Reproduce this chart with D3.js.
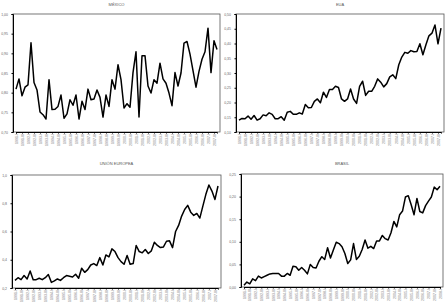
<!DOCTYPE html>
<html>
<head>
<meta charset="utf-8">
<script src="https://cdn.jsdelivr.net/npm/d3@7"></script>
<style>
  body { margin: 0; background: #fff; }
  svg { display: block; font-family: "Liberation Sans", Arial, sans-serif; }
</style>
</head>
<body>
<div id="chart"></div>
<script>
// quarter labels
const years = d3.range(1991, 2009);
const quarters = ["I", "II", "III", "IV"];
const quarterLabels = years.flatMap(y => quarters.map(q => `${y}-${q}`));

const titles = ["MÉXICO", "EUA", "UNIÓN EUROPEA", "BRASIL"];

const mexicoValues = [0.809, 0.835, 0.792, 0.814, 0.820, 0.927, 0.826, 0.807, 0.751, 0.744,
  0.733, 0.833, 0.757, 0.758, 0.765, 0.794, 0.735, 0.746, 0.782, 0.768,
  0.794, 0.733, 0.778, 0.757, 0.809, 0.782, 0.784, 0.807, 0.788, 0.738,
  0.794, 0.765, 0.833, 0.809, 0.871, 0.833, 0.761, 0.772, 0.763, 0.851,
  0.904, 0.738, 0.894, 0.894, 0.817, 0.799, 0.833, 0.824, 0.875, 0.835,
  0.824, 0.799, 0.767, 0.851, 0.817, 0.850, 0.926, 0.930, 0.898, 0.856,
  0.814, 0.854, 0.885, 0.904, 0.964, 0.851, 0.932, 0.910];

const usaValues = [0.140, 0.146, 0.145, 0.154, 0.143, 0.156, 0.140, 0.145, 0.158, 0.155,
  0.165, 0.160, 0.145, 0.145, 0.152, 0.140, 0.167, 0.170, 0.160, 0.160,
  0.165, 0.161, 0.193, 0.182, 0.183, 0.204, 0.212, 0.199, 0.235, 0.217,
  0.244, 0.244, 0.255, 0.251, 0.212, 0.204, 0.212, 0.246, 0.212, 0.197,
  0.255, 0.272, 0.224, 0.238, 0.238, 0.255, 0.280, 0.269, 0.253, 0.264,
  0.287, 0.294, 0.281, 0.328, 0.354, 0.370, 0.367, 0.376, 0.372, 0.373,
  0.399, 0.362, 0.396, 0.426, 0.435, 0.463, 0.399, 0.452];

const euValues = [0.254, 0.273, 0.259, 0.288, 0.264, 0.321, 0.259, 0.259, 0.269, 0.259,
  0.273, 0.295, 0.240, 0.250, 0.264, 0.254, 0.273, 0.288, 0.283, 0.278,
  0.297, 0.269, 0.340, 0.311, 0.330, 0.363, 0.373, 0.359, 0.415, 0.363,
  0.434, 0.420, 0.477, 0.458, 0.415, 0.387, 0.368, 0.430, 0.368, 0.373,
  0.501, 0.458, 0.449, 0.472, 0.444, 0.463, 0.524, 0.501, 0.486, 0.491,
  0.531, 0.534, 0.486, 0.600, 0.643, 0.709, 0.756, 0.785, 0.737, 0.714,
  0.728, 0.695, 0.780, 0.863, 0.929, 0.886, 0.827, 0.922];

const brasilValues = [0.004, 0.011, 0.007, 0.018, 0.014, 0.024, 0.020, 0.023, 0.026, 0.029,
  0.030, 0.030, 0.030, 0.024, 0.024, 0.030, 0.026, 0.046, 0.045, 0.037,
  0.043, 0.037, 0.029, 0.050, 0.043, 0.042, 0.057, 0.067, 0.061, 0.087,
  0.064, 0.082, 0.099, 0.096, 0.089, 0.074, 0.052, 0.060, 0.096, 0.061,
  0.068, 0.083, 0.104, 0.086, 0.090, 0.085, 0.102, 0.102, 0.114, 0.107,
  0.104, 0.120, 0.145, 0.133, 0.160, 0.168, 0.199, 0.202, 0.182, 0.160,
  0.196, 0.167, 0.164, 0.180, 0.190, 0.199, 0.221, 0.215, 0.223];

const yTicksMexico = [0.70, 0.75, 0.80, 0.85, 0.90, 0.95, 1.00];
const yTicksUsa = [0.10, 0.15, 0.20, 0.25, 0.30, 0.35, 0.40, 0.45, 0.50];
const yTicksEu = [0.2, 0.4, 0.6, 0.8, 1.0];
const yTicksBrasil = [0.00, 0.05, 0.10, 0.15, 0.20, 0.25];

const width = 448, height = 306;

const panels = [
  { title: titles[0], values: mexicoValues, ticks: yTicksMexico, decimals: 2, box: { x0: 13, x1: 220, y0: 14, y1: 132 }, titleY: 6 },
  { title: titles[1], values: usaValues, ticks: yTicksUsa, decimals: 2, box: { x0: 236, x1: 444, y0: 14, y1: 132 }, titleY: 6 },
  { title: titles[2], values: euValues, ticks: yTicksEu, decimals: 1, box: { x0: 12, x1: 221, y0: 175, y1: 288 }, titleY: 165 },
  { title: titles[3], values: brasilValues, ticks: yTicksBrasil, decimals: 2, box: { x0: 241, x1: 443, y0: 174, y1: 287 }, titleY: 165 }
];

const svg = d3.select("#chart").append("svg")
  .attr("width", width)
  .attr("height", height);

panels.forEach(p => {
  const b = p.box;
  const g = svg.append("g");
  const labels = quarterLabels.slice(0, p.values.length);

  const x = d3.scalePoint()
    .domain(labels)
    .range([b.x0 + 3, b.x1 - 3]);

  const y = d3.scaleLinear()
    .domain(d3.extent(p.ticks))
    .range([b.y1, b.y0]);

  const fmt = v => d3.format(`.${p.decimals}f`)(v).replace(".", ",");

  // title
  g.append("text")
    .attr("x", (b.x0 + b.x1) / 2)
    .attr("y", p.titleY)
    .attr("text-anchor", "middle")
    .attr("font-size", 4)
    .attr("fill", "#555")
    .text(p.title);

  // plot frame
  g.append("rect")
    .attr("x", b.x0)
    .attr("y", b.y0)
    .attr("width", b.x1 - b.x0)
    .attr("height", b.y1 - b.y0)
    .attr("fill", "none")
    .attr("stroke", "#555")
    .attr("stroke-width", 0.8);

  // y axis
  const yAxis = g.append("g")
    .attr("transform", `translate(${b.x0},0)`)
    .call(d3.axisLeft(y).tickValues(p.ticks).tickSize(1.5).tickFormat(fmt));
  yAxis.select(".domain").attr("stroke", "#000").attr("stroke-width", 1);
  yAxis.selectAll("text").attr("font-size", 3.5).attr("fill", "#666").attr("dx", -0.5);

  // x axis
  const xAxis = g.append("g")
    .attr("transform", `translate(0,${b.y1})`)
    .call(d3.axisBottom(x)
      .tickValues(labels.filter((d, i) => i % 2 === 0))
      .tickSize(1.5));
  xAxis.select(".domain").attr("stroke", "#000").attr("stroke-width", 1);
  xAxis.selectAll("line").attr("stroke", "#000");
  xAxis.selectAll("text")
    .attr("font-size", 3.5)
    .attr("fill", "#777")
    .attr("transform", "rotate(-90)")
    .attr("text-anchor", "end")
    .attr("x", -2)
    .attr("y", 0)
    .attr("dy", "0.35em");

  // line
  const line = d3.line()
    .x((d, i) => x(labels[i]))
    .y(d => y(d));

  g.append("path")
    .datum(p.values)
    .attr("fill", "none")
    .attr("stroke", "#000")
    .attr("stroke-width", 1.5)
    .attr("stroke-linejoin", "round")
    .attr("d", line);
});
</script>
</body>
</html>
